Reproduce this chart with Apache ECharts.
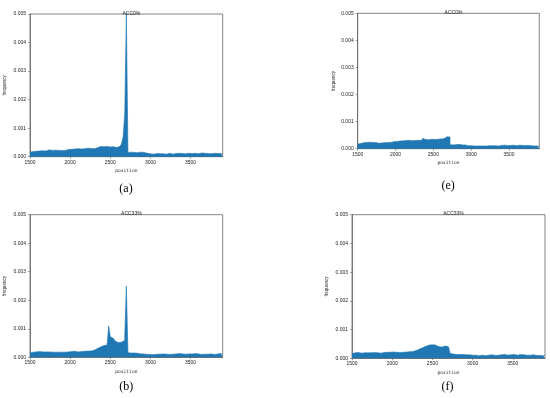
<!DOCTYPE html>
<html><head><meta charset="utf-8">
<script src="https://cdn.jsdelivr.net/npm/echarts@6/dist/echarts.min.js"></script>
<style>html,body{margin:0;padding:0;background:#fff}#c{width:550px;height:398px}</style>
</head><body><div id="c"></div>
<script>
// histogram bins: start 1500, width 20, 120 bins up to 3900
const binStart = 1500, binWidth = 20, binEnd = 3900;
const xTicks = [1500, 2000, 2500, 3000, 3500];
const yTicks = [0.000, 0.001, 0.002, 0.003, 0.004, 0.005];
const titles = ['ACC0%', 'ACC0%', 'ACC33%', 'ACC33%'];
const panelLabels = ['(a)', '(e)', '(b)', '(f)'];

const freqA = [
0.00016,0.00018,0.00020,0.00019,0.00021,0.00020,0.00022,0.00021,0.00023,0.00020,
0.00022,0.00024,0.00021,0.00022,0.00020,0.00023,0.00021,0.00022,0.00020,0.00022,
0.00023,0.00022,0.00024,0.00025,0.00023,0.00026,0.00025,0.00027,0.00026,0.00028,
0.00026,0.00027,0.00029,0.00028,0.00027,0.00030,0.00028,0.00029,0.00030,0.00028,
0.00030,0.00031,0.00029,0.00036,0.00033,0.00035,0.00031,0.00036,0.00032,0.00034,
0.00033,0.00035,0.00034,0.00032,0.00035,0.00036,0.00033,0.00045,0.00070,0.00150,
0.00500,
0.00015,0.00016,0.00014,0.00015,0.00016,0.00014,0.00015,0.00016,0.00014,
0.00015,0.00013,0.00012,0.00011,0.00010,0.00011,0.00009,0.00010,0.00011,0.00009,
0.00010,0.00009,0.00010,0.00011,0.00009,0.00010,0.00012,0.00010,0.00009,0.00010,
0.00011,0.00010,0.00012,0.00010,0.00011,0.00013,0.00010,0.00011,0.00012,0.00010,
0.00011,0.00010,0.00012,0.00011,0.00010,0.00012,0.00013,0.00011,0.00012,0.00010,
0.00011,0.00012,0.00010,0.00011,0.00012,0.00010,0.00011,0.00010,0.00011,0.00010];

const freqE = [
0.00017,0.00019,0.00020,0.00022,0.00021,0.00023,0.00022,0.00024,0.00022,0.00023,
0.00021,0.00023,0.00022,0.00020,0.00022,0.00021,0.00023,0.00022,0.00021,0.00023,
0.00024,0.00023,0.00025,0.00026,0.00025,0.00027,0.00026,0.00028,0.00027,0.00029,
0.00028,0.00030,0.00029,0.00031,0.00030,0.00029,0.00031,0.00030,0.00032,0.00031,
0.00032,0.00030,0.00033,0.00038,0.00034,0.00037,0.00033,0.00038,0.00035,0.00036,
0.00034,0.00037,0.00035,0.00038,0.00036,0.00039,0.00037,0.00042,0.00044,0.00041,
0.00043,
0.00015,0.00014,0.00016,0.00015,0.00014,0.00016,0.00015,0.00014,0.00015,
0.00014,0.00012,0.00011,0.00010,0.00011,0.00009,0.00010,0.00009,0.00010,0.00009,
0.00010,0.00009,0.00010,0.00011,0.00010,0.00009,0.00011,0.00010,0.00011,0.00010,
0.00011,0.00012,0.00010,0.00011,0.00012,0.00011,0.00013,0.00011,0.00012,0.00011,
0.00012,0.00011,0.00013,0.00012,0.00011,0.00012,0.00013,0.00011,0.00012,0.00011,
0.00012,0.00011,0.00012,0.00010,0.00011,0.00012,0.00010,0.00011,0.00010,0.00011];

const freqB = [
0.00015,0.00018,0.00017,0.00019,0.00018,0.00020,0.00018,0.00019,0.00017,0.00019,
0.00018,0.00019,0.00017,0.00018,0.00019,0.00018,0.00020,0.00018,0.00019,0.00018,
0.00019,0.00018,0.00020,0.00019,0.00018,0.00020,0.00019,0.00021,0.00020,0.00019,
0.00021,0.00020,0.00022,0.00021,0.00020,0.00022,0.00023,0.00022,0.00024,0.00025,
0.00028,0.00031,0.00034,0.00036,0.00039,0.00041,0.00038,0.00043,0.00045,0.00110,
0.00072,0.00066,0.00060,0.00057,0.00052,0.00049,0.00053,0.00055,0.00060,0.00075,
0.00250,
0.00016,0.00015,0.00014,0.00015,0.00013,0.00014,0.00013,0.00012,0.00013,
0.00012,0.00011,0.00010,0.00011,0.00010,0.00011,0.00009,0.00010,0.00011,0.00010,
0.00011,0.00010,0.00012,0.00010,0.00011,0.00013,0.00010,0.00012,0.00011,0.00010,
0.00012,0.00011,0.00013,0.00011,0.00012,0.00010,0.00011,0.00013,0.00012,0.00011,
0.00012,0.00010,0.00013,0.00011,0.00012,0.00011,0.00010,0.00012,0.00011,0.00010,
0.00011,0.00010,0.00012,0.00011,0.00010,0.00011,0.00012,0.00010,0.00013,0.00011];

const freqF = [
0.00016,0.00019,0.00018,0.00020,0.00019,0.00018,0.00020,0.00019,0.00018,0.00019,
0.00017,0.00019,0.00018,0.00020,0.00018,0.00019,0.00020,0.00018,0.00019,0.00020,
0.00019,0.00021,0.00020,0.00021,0.00019,0.00022,0.00020,0.00021,0.00022,0.00020,
0.00022,0.00021,0.00023,0.00022,0.00021,0.00023,0.00022,0.00024,0.00025,0.00027,
0.00030,0.00032,0.00035,0.00037,0.00039,0.00042,0.00044,0.00046,0.00043,0.00047,
0.00044,0.00046,0.00042,0.00040,0.00043,0.00039,0.00041,0.00043,0.00038,0.00040,
0.00036,
0.00017,0.00015,0.00014,0.00013,0.00014,0.00013,0.00012,0.00013,0.00012,
0.00012,0.00011,0.00012,0.00010,0.00011,0.00010,0.00011,0.00010,0.00009,0.00010,
0.00011,0.00010,0.00009,0.00010,0.00011,0.00010,0.00012,0.00011,0.00010,0.00012,
0.00011,0.00013,0.00012,0.00011,0.00013,0.00012,0.00011,0.00014,0.00012,0.00011,
0.00013,0.00012,0.00011,0.00012,0.00013,0.00011,0.00012,0.00010,0.00011,0.00012,
0.00011,0.00010,0.00012,0.00011,0.00010,0.00011,0.00010,0.00011,0.00009,0.00010];

const panels = [freqA, freqE, freqB, freqF];

// layout (pixel boxes of the four plot frames)
const boxes = [
  {left: 30,    top: 14,    width: 192.7, height: 142.7, yName: 23,  xName: 12, labelY: 190, titleY: 6},
  {left: 357.7, top: 13.3,  width: 181.6, height: 135.4, yName: 21,  xName: 12, labelY: 187, titleY: 5},
  {left: 30,    top: 214.7, width: 192.7, height: 142.6, yName: 23,  xName: 12, labelY: 388, titleY: 206},
  {left: 352,   top: 214.7, width: 193,   height: 143.6, yName: 23,  xName: 12, labelY: 388, titleY: 206}
];

const blue = '#1f77b4';
const frameColor = '#666';
const tickFont = {fontSize: 5, color: '#222', fontFamily: 'Liberation Sans'};

function toPairs(vals) {
  const pts = vals.map((v, i) => [binStart + i * binWidth, v]);
  pts.push([binEnd, vals[vals.length - 1]]);
  return pts;
}

const grid = [], xAxis = [], yAxis = [], series = [], title = [], graphic = [];
boxes.forEach((b, i) => {
  grid.push({left: b.left, top: b.top, width: b.width, height: b.height,
    show: true, borderColor: frameColor, borderWidth: 0.8, backgroundColor: 'transparent'});
  xAxis.push({type: 'value', gridIndex: i, min: 1500, max: 3900, interval: 500,
    name: 'position', nameLocation: 'middle', nameGap: b.xName,
    nameTextStyle: {fontSize: 4.6, fontFamily: 'DejaVu Sans Mono', color: '#222'},
    axisLine: {show: true, lineStyle: {color: frameColor, width: 0.8}},
    axisTick: {show: true, length: 2, lineStyle: {color: frameColor, width: 0.6},
      customValues: xTicks},
    axisLabel: Object.assign({margin: 3, customValues: xTicks, formatter: v => String(v)}, tickFont),
    splitLine: {show: false}});
  yAxis.push({type: 'value', gridIndex: i, min: 0, max: 0.005, interval: 0.001,
    name: 'frequency', nameLocation: 'middle', nameGap: b.yName,
    nameTextStyle: {fontSize: 4.6, fontFamily: 'Liberation Sans', color: '#222'},
    axisLine: {show: true, lineStyle: {color: frameColor, width: 0.8}},
    axisTick: {show: true, length: 2, lineStyle: {color: frameColor, width: 0.6}},
    axisLabel: Object.assign({margin: 4, formatter: v => v.toFixed(3)}, tickFont),
    splitLine: {show: false}});
  series.push({type: 'line', xAxisIndex: i, yAxisIndex: i, step: 'end',
    data: toPairs(panels[i]), symbol: 'none', silent: true, animation: false,
    lineStyle: {color: blue, width: 0.6}, areaStyle: {color: blue, opacity: 1},
    clip: true});
  title.push({text: titles[i], left: b.left + b.width / 2, top: b.titleY, textAlign: 'center',
    textStyle: {fontSize: 5, fontWeight: 'normal', color: '#222', fontFamily: 'Liberation Sans'}});
  graphic.push({type: 'text', left: b.left + b.width / 2 - 7, top: b.labelY - 7,
    style: {text: panelLabels[i], font: '12px "Liberation Serif"', fill: '#000'}});
});

const chart = echarts.init(document.getElementById('c'), null, {renderer: 'canvas'});
chart.setOption({animation: false, grid, xAxis, yAxis, series, title, graphic});
</script></body></html>
